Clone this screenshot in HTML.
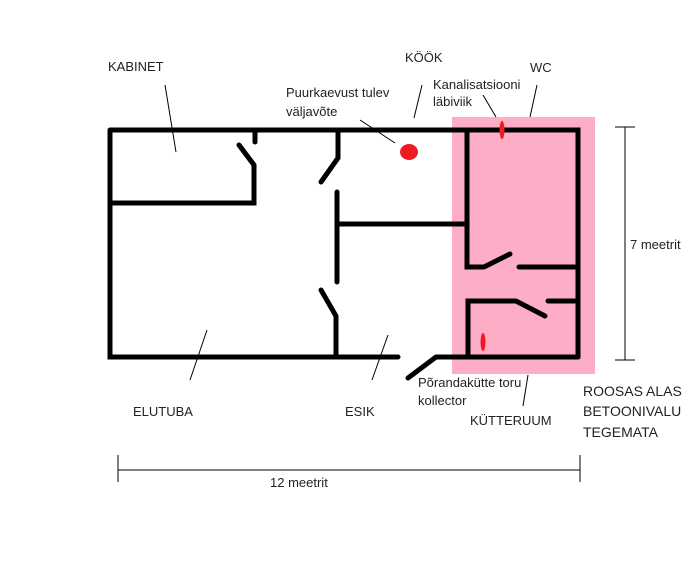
<!DOCTYPE html><html><head><style>body{margin:0;background:#fff}svg{display:block}text{font-family:"Liberation Sans",sans-serif;font-size:13px;fill:#222}</style></head><body>
<svg width="696" height="564" viewBox="0 0 696 564">
<rect x="452" y="117" width="143" height="257" fill="#fdadc6"/>
<g stroke="#000" stroke-width="5" fill="none" stroke-linecap="round">
<path d="M110 130H578V357M110 130V357H398"/>
<path d="M437 357H578"/>
<path d="M255 130V142M239 145L254 165V203H110"/>
<path d="M338 130V158L321 182"/>
<path d="M337 192V282M337 224H465"/>
<path d="M321 290L336 316V355"/>
<path d="M467 130V267H484L510 254M519 267H576"/>
<path d="M468 357V301H516L545 316M548 301H576"/>
<path d="M436 357L408 378"/>
</g>
<ellipse cx="409" cy="152" rx="9" ry="8" fill="#ed1c24"/>
<ellipse cx="502" cy="130" rx="2.5" ry="9" fill="#ed1c24"/>
<ellipse cx="483" cy="342" rx="2.5" ry="9" fill="#ed1c24"/>
<g stroke="#000" stroke-width="1" fill="none">
<path d="M165 85L176 152M360 120L395 143M422 85L414 118M483 95L496 117M537 85L530 117M207 330L190 380M388 335L372 380M528 375L523 406"/>
<path d="M625 127V360M615 127H635M615 360H635M118 470H580M118 455V482M580 455V482"/>
</g>
<text x="108" y="71">KABINET</text>
<text x="286" y="97">Puurkaevust tulev</text>
<text x="286" y="116">väljavõte</text>
<text x="405" y="62">KÖÖK</text>
<text x="433" y="89">Kanalisatsiooni</text>
<text x="433" y="106">läbiviik</text>
<text x="530" y="72">WC</text>
<text x="630" y="249">7 meetrit</text>
<text x="133" y="416">ELUTUBA</text>
<text x="345" y="416">ESIK</text>
<text x="418" y="387">Põrandakütte toru</text>
<text x="418" y="405">kollector</text>
<text x="470" y="425">KÜTTERUUM</text>
<text x="583" y="396" style="font-size:14px">ROOSAS ALAS</text>
<text x="583" y="416" style="font-size:14px">BETOONIVALU</text>
<text x="583" y="437" style="font-size:14px">TEGEMATA</text>
<text x="270" y="487">12 meetrit</text>
</svg></body></html>
